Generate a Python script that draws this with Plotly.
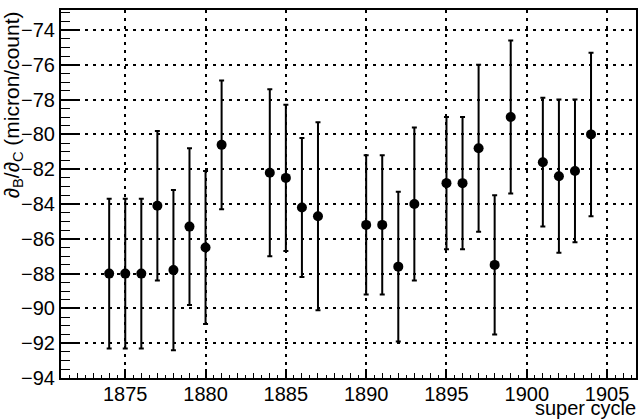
import plotly.graph_objects as go

cycles = [1874, 1875, 1876, 1877, 1878, 1879, 1880, 1881, 1884, 1885, 1886, 1887,
          1890, 1891, 1892, 1893, 1895, 1896, 1897, 1898, 1899, 1901, 1902, 1903, 1904]
ratio = [-88.0, -88.0, -88.0, -84.1, -87.8, -85.3, -86.5, -80.6, -82.2, -82.5, -84.2, -84.7,
         -85.2, -85.2, -87.6, -84.0, -82.8, -82.8, -80.8, -87.5, -79.0, -81.6, -82.4, -82.1, -80.0]
ratio_err = [4.3, 4.3, 4.3, 4.3, 4.6, 4.5, 4.4, 3.7, 4.8, 4.2, 4.0, 5.4,
             4.0, 4.0, 4.3, 4.4, 3.8, 3.8, 4.8, 4.0, 4.4, 3.7, 4.4, 4.1, 4.7]

x_range = [1871.0, 1906.8]
y_range = [-94.0, -72.85]

FONT = "Liberation Sans, Arial, Helvetica, sans-serif"
FS = 20

fig = go.Figure()
fig.add_trace(go.Scatter(
    x=cycles, y=ratio, mode="markers",
    marker=dict(color="black", size=10, symbol="circle"),
    error_y=dict(type="data", array=ratio_err, visible=True,
                 color="black", thickness=2, width=2.5),
    showlegend=False,
))
# empty trace so the fine tick axis is drawn
fig.add_trace(go.Scatter(x=[], y=[], xaxis="x2", showlegend=False, hoverinfo="skip"))

fig.update_layout(
    width=642, height=419,
    margin=dict(l=61, r=4, t=10, b=41),
    paper_bgcolor="white", plot_bgcolor="white",
    font=dict(family=FONT, size=FS, color="black"),
    xaxis=dict(
        range=x_range, showline=True, mirror=True, linecolor="black", linewidth=2,
        ticks="inside", ticklen=9, tickwidth=1.5, tickcolor="black",
        tick0=1875, dtick=5, showgrid=True, gridcolor="black", gridwidth=1.5,
        griddash="3px,5px", zeroline=False, ticklabelstandoff=-3,
        tickfont=dict(family=FONT, size=FS),
        minor=dict(dtick=1, tick0=1875, ticks="inside", ticklen=5, tickwidth=1.2,
                   tickcolor="black", showgrid=False),
    ),
    xaxis2=dict(
        range=x_range, overlaying="x", side="bottom", showline=False,
        ticks="inside", ticklen=3, tickwidth=1.2, tickcolor="black",
        tick0=1875, dtick=0.5, showticklabels=False, showgrid=False, zeroline=False,
    ),
    yaxis=dict(
        range=y_range, showline=True, mirror=True, linecolor="black", linewidth=2,
        ticks="inside", ticklen=17, tickwidth=1.5, tickcolor="black",
        tick0=-94, dtick=2, showgrid=True, gridcolor="black", gridwidth=1.5,
        griddash="3px,5px", zeroline=False,
        tickfont=dict(family=FONT, size=FS),
        minor=dict(dtick=0.5, tick0=-94, ticks="inside", ticklen=9, tickwidth=1.2,
                   tickcolor="black", showgrid=False),
    ),
    annotations=[
        dict(text="∂<sub>B</sub>/∂<sub>C</sub> (micron/count)", textangle=-90,
             xref="paper", yref="paper", x=0, y=1, xanchor="center", yanchor="top",
             xshift=-49, yshift=0, showarrow=False,
             font=dict(family=FONT, size=FS + 1, color="black")),
        dict(text="super cycle", xref="paper", yref="paper", x=1, y=0,
             xanchor="right", yanchor="top", xshift=2, yshift=-17, showarrow=False,
             font=dict(family=FONT, size=FS, color="black")),
    ],
)

# remove the default 8px page margin so the figure fills the window exactly
fig.write_html("out.html", config={"displayModeBar": False},
               post_script="document.body.style.margin='0';")
